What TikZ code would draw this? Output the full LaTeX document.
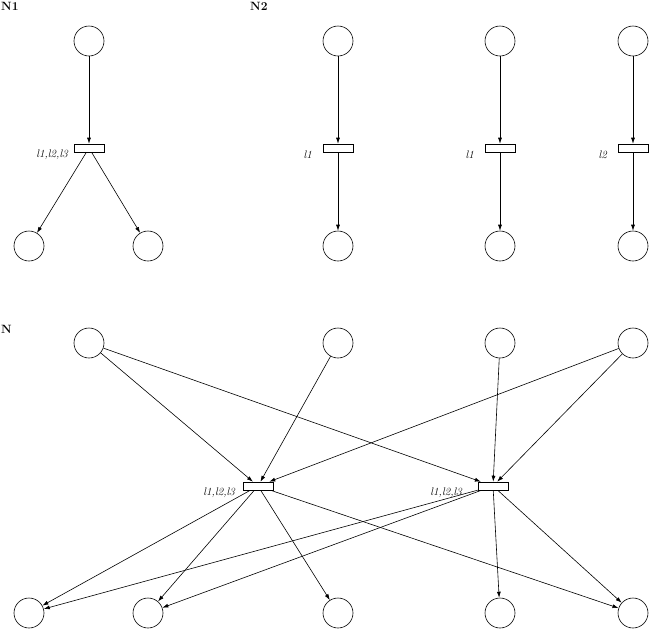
\documentclass[tikz,border=0pt]{standalone}
\usepackage{tikz}
\usetikzlibrary{arrows.meta}

\tikzset{
  place/.style={draw, circle, minimum size=30pt, inner sep=0pt, line width=0.6pt},
  trans/.style={draw, rectangle, minimum width=30pt, minimum height=8pt, inner sep=0pt, line width=0.6pt},
  lbl/.style={font=\fontsize{11}{13}\selectfont\itshape, inner sep=0pt, anchor=east},
  ttl/.style={font=\fontsize{12}{14}\selectfont\bfseries, inner sep=0pt, anchor=north west},
  arc/.style={-{Latex[length=6pt,width=4pt]}, line width=0.6pt}
}

\begin{document}
\begin{tikzpicture}[x=1pt,y=-1pt]
        \useasboundingbox (0,0) rectangle (649,630);

        % N1
        \node[ttl] (n1) at (1,2) {N1};
        \node[place] (a1) at (89,41) {};
        \node[trans] (ta) at (89,148) {};
        \node[place] (a2) at (29,246) {};
        \node[place] (a3) at (148,246) {};
        \node[lbl] (la) at (68,155) {l1,l2,l3};
        \draw[arc] (a1) -- (ta);
        \draw[arc] (ta) -- (a2);
        \draw[arc] (ta) -- (a3);

        % N2
        \node[ttl] (n2) at (250,2) {N2};
        \foreach \x/\l/\n in {338/l1/1, 500/l1/2, 633/l2/3} {
            \node[place] (b\n) at (\x,41) {};
            \node[trans] (tb\n) at (\x,148) {};
            \node[place] (e\n) at (\x,246) {};
            \node[lbl] (lb\n) at (\x-26,155) {\l};
            \draw[arc] (b\n) -- (tb\n);
            \draw[arc] (tb\n) -- (e\n);
        }

        % N
        \node[ttl] (n) at (1,325) {N};
        \foreach \x [count=\i] in {89,338,500,633}
            \node[place] (c\i) at (\x,343) {};
        \foreach \x [count=\i] in {29,148,338,500,633}
            \node[place] (d\i) at (\x,613) {};
        \node[trans] (t1) at (258,486) {};
        \node[trans] (t2) at (493,486) {};
        \node[lbl] (l1) at (235,493) {l1,l2,l3};
        \node[lbl] (l2) at (462,493) {l1,l2,l3};

        \foreach \s/\t in {c1/t1, c1/t2, c2/t1, c3/t2, c4/t1, c4/t2}
            \draw[arc] (\s) -- (\t);
        \foreach \s/\t in {t1/d1, t1/d2, t1/d3, t1/d5, t2/d1, t2/d2, t2/d4, t2/d5}
            \draw[arc] (\s) -- (\t);
\end{tikzpicture}
\end{document}
